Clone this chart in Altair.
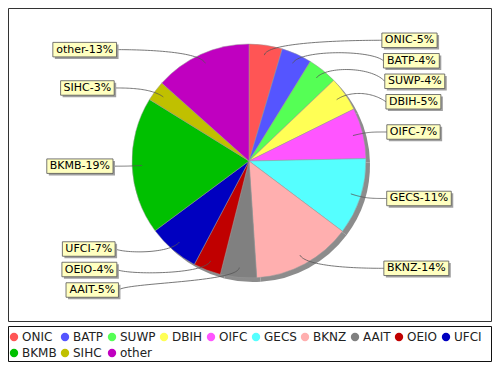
import math
import altair as alt
import pandas as pd

# ---- data ----
names = ["ONIC", "BATP", "SUWP", "DBIH", "OIFC", "GECS", "BKNZ",
         "AAIT", "OEIO", "UFCI", "BKMB", "SIHC", "other"]
shares = [4.6, 4.2, 4.1, 4.8, 7.0, 10.6, 13.7, 5.0, 3.8, 7.1, 19.0, 2.8, 13.4]
pct_labels = [5, 4, 4, 5, 7, 11, 14, 5, 4, 7, 19, 3, 13]
colors = ["#FF5555", "#5555FF", "#55FF55", "#FFFF55", "#FF55FF", "#55FFFF",
          "#FFAFAF", "#808080", "#C00000", "#0000C0", "#00C000", "#C0C000",
          "#C000C0"]

# ---- layout constants (view coordinates) ----
W, H = 484, 354
cx, cy, r = 241, 153, 117
link_r = 122      # label link ellipse
in_r = 107        # where links end inside slices
gap = 20.5        # min vertical distance between labels
top_b, bot_b = 30, 282
box_h = 14.5
pad = 3
FONT = "DejaVu Sans"
FS = 11

cw = {'O': 787, 'N': 748, 'I': 295, 'C': 698, 'B': 686, 'A': 684, 'T': 611,
      'P': 603, 'S': 635, 'U': 732, 'W': 989, 'D': 770, 'H': 752, 'F': 575,
      'G': 775, 'E': 632, 'K': 656, 'Z': 685, 'M': 863, 'o': 612, 't': 392,
      'h': 634, 'e': 615, 'r': 411, '-': 361, '%': 950}


def text_w(s, fs):
    return sum(cw.get(ch, 636) for ch in s) * fs / 1000.0


total = sum(shares)
mids = []
acc = 0.0
for s in shares:
    mids.append((acc + s / 2) / total * 2 * math.pi)
    acc += s

texts = [f"{n}-{p}%" for n, p in zip(names, pct_labels)]
nat_y = [cy - link_r * math.cos(a) for a in mids]


def distribute(idx):
    ys = [nat_y[i] for i in idx]
    for k in range(1, len(ys)):
        ys[k] = max(ys[k], ys[k - 1] + gap)
    if ys and ys[-1] > bot_b:
        ys[-1] = bot_b
        for k in range(len(ys) - 2, -1, -1):
            ys[k] = min(ys[k], ys[k + 1] - gap)
    if ys and ys[0] < top_b:
        ys[0] = top_b
        for k in range(1, len(ys)):
            ys[k] = max(ys[k], ys[k - 1] + gap)
    return dict(zip(idx, ys))


right = [i for i, a in enumerate(mids) if a < math.pi]
left = [i for i, a in enumerate(mids) if a >= math.pi]
right.sort(key=lambda i: nat_y[i])
left.sort(key=lambda i: nat_y[i])
alloc = {}
alloc.update(distribute(right))
alloc.update(distribute(left))

lab_rows = []
line_rows = []
for i, a in enumerate(mids):
    s = math.sin(a)
    c = math.cos(a)
    tw = text_w(texts[i], FS)
    bw = tw + 2 * pad
    ly = alloc[i]
    if a < math.pi:
        x1 = cx + 132 + 6 * abs(s)
        x2 = x1 + bw
        tx = x1
        ax = cx + link_r
    else:
        x2 = cx - 130 - 6 * abs(s)
        x1 = x2 - bw
        tx = x2
        ax = cx - link_r
    lab_rows.append(dict(name=names[i], text=texts[i], x1=x1, x2=x2,
                         y1=ly - box_h / 2, y2=ly + box_h / 2,
                         sx1=x1 + 2, sx2=x2 + 2,
                         sy1=ly - box_h / 2 + 2, sy2=ly + box_h / 2 + 2,
                         tx=(x1 + x2) / 2, ty=ly))
    ey = cy - link_r * c
    ex = cx + link_r * s
    p = [(tx, ly), (ax, ey), (ex, ey), (cx + in_r * s, cy - in_r * c)]
    n = 40
    for k in range(n + 1):
        t = k / n
        b0 = (1 - t) ** 3
        b1 = 3 * (1 - t) ** 2 * t
        b2 = 3 * (1 - t) * t ** 2
        b3 = t ** 3
        px = b0 * p[0][0] + b1 * p[1][0] + b2 * p[2][0] + b3 * p[3][0]
        py = b0 * p[0][1] + b1 * p[1][1] + b2 * p[2][1] + b3 * p[3][1]
        line_rows.append(dict(name=names[i], k=k, px=px, py=py))

pie_df = pd.DataFrame({"name": names, "share": shares,
                       "idx": list(range(len(names)))})
lab_df = pd.DataFrame(lab_rows)
line_df = pd.DataFrame(line_rows)
one = pd.DataFrame({"a": [0]})

X = lambda f: alt.X(f, type="quantitative", scale=None, axis=None)
Y = lambda f: alt.Y(f, type="quantitative", scale=None, axis=None)

frame = alt.Chart(one).mark_rect(fillOpacity=0, stroke="#333333",
                                 strokeWidth=1).encode(
    x=alt.value(0.5), x2=alt.value(W - 0.5),
    y=alt.value(0.5), y2=alt.value(313.5))

legend_box = alt.Chart(one).mark_rect(fill="white", stroke="#111111",
                                      strokeWidth=1).encode(
    x=alt.value(0.5), x2=alt.value(W - 0.5),
    y=alt.value(318.5), y2=alt.value(353.5))

shadow = alt.Chart(pie_df).mark_arc(radius=r, fill="#8c8c8c").encode(
    theta=alt.Theta("share:Q", stack=True),
    order=alt.Order("idx:Q"),
    x=alt.value(cx + 4), y=alt.value(cy + 4))

pie = alt.Chart(pie_df).mark_arc(radius=r, stroke="#9a9a9a",
                                 strokeWidth=0.5).encode(
    theta=alt.Theta("share:Q", stack=True),
    order=alt.Order("idx:Q"),
    color=alt.Color("name:N", sort=names,
                    scale=alt.Scale(domain=names, range=colors),
                    legend=alt.Legend(
                        orient="none", legendX=0, legendY=323,
                        direction="horizontal", columns=10,
                        gridAlign="none", title=None,
                        symbolType="circle", symbolSize=70,
                        symbolStrokeWidth=0, symbolOpacity=1,
                        labelFont=FONT, labelFontSize=12,
                        labelColor="#222222", labelOffset=2,
                        columnPadding=2, rowPadding=4, padding=0,
                        zindex=1)),
    x=alt.value(cx), y=alt.value(cy))

links = alt.Chart(line_df).mark_line(color="#555555", strokeWidth=0.8).encode(
    x=X("px"), y=Y("py"), detail="name:N", order=alt.Order("k:Q"))

lab_shadow = alt.Chart(lab_df).mark_rect(fill="#a0a0a0").encode(
    x=X("sx1"), x2="sx2", y=Y("sy1"), y2="sy2")

lab_box = alt.Chart(lab_df).mark_rect(fill="#FFFFC0", stroke="#555555",
                                      strokeWidth=0.8).encode(
    x=X("x1"), x2="x2", y=Y("y1"), y2="y2")

lab_text = alt.Chart(lab_df).mark_text(font=FONT, fontSize=FS, color="black",
                                       align="center",
                                       baseline="middle").encode(
    x=X("tx"), y=Y("ty"), text="text:N")

chart = alt.layer(frame, legend_box, shadow, pie, links, lab_shadow,
                  lab_box, lab_text).properties(
    width=W, height=H,
    autosize=alt.AutoSizeParams(type="none"),
    padding=0,
).configure_view(stroke=None)

chart.save("out.html", embed_options={"renderer": "svg", "actions": False})
